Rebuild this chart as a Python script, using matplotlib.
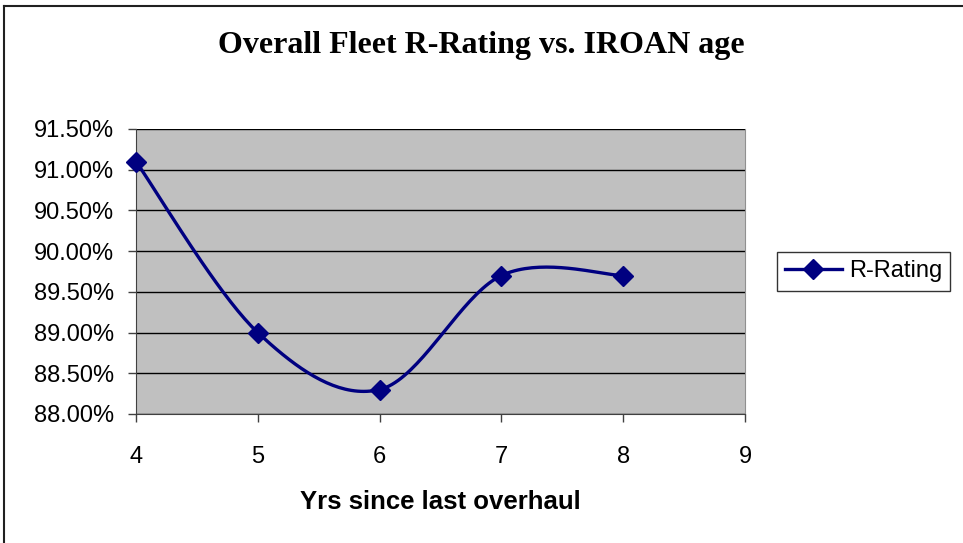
import matplotlib

matplotlib.use("Agg")
import matplotlib.pyplot as plt
import numpy as np
from matplotlib.lines import Line2D

# Data
years = [4, 5, 6, 7, 8]
r_rating = [91.10, 89.00, 88.30, 89.70, 89.70]  # percent
y_ticks = [88.0, 88.5, 89.0, 89.5, 90.0, 90.5, 91.0, 91.5]
x_ticks = [4, 5, 6, 7, 8, 9]

NAVY = "#000080"
GRAY = "#C0C0C0"


def smooth(xs, ys, n=40):
    """Catmull-Rom style curve through the points (like Excel's smoothed line)."""
    px = np.array(xs, float)
    py = np.array(ys, float)
    px = np.concatenate([[px[0]], px, [px[-1]]])
    py = np.concatenate([[py[0]], py, [py[-1]]])
    out_x, out_y = [], []
    for i in range(1, len(px) - 2):
        p0, p1, p2, p3 = (np.array([px[j], py[j]]) for j in (i - 1, i, i + 1, i + 2))
        c1 = p1 + (p2 - p0) / 6
        c2 = p2 - (p3 - p1) / 6
        t = np.linspace(0, 1, n)[:, None]
        b = ((1 - t) ** 3) * p1 + 3 * ((1 - t) ** 2) * t * c1 + 3 * (1 - t) * t**2 * c2 + t**3 * p2
        out_x.extend(b[:, 0])
        out_y.extend(b[:, 1])
    return out_x, out_y


plt.rcParams["font.family"] = ["Liberation Sans", "DejaVu Sans"]

fig = plt.figure(figsize=(9.63, 5.43), dpi=100)
# chart-area border: only the left and top edges fall inside the picture
fig.add_artist(Line2D([0.0045, 0.0045], [0.0, 0.989], transform=fig.transFigure,
                      color="#202020", linewidth=1.5))
fig.add_artist(Line2D([0.0045, 1.0], [0.989, 0.989], transform=fig.transFigure,
                      color="#202020", linewidth=1.5))

ax = fig.add_axes([0.1412, 0.2376, 0.6324, 0.5249])
ax.set_facecolor(GRAY)

sx, sy = smooth(years, r_rating)
ax.plot(sx, sy, color=NAVY, linewidth=2.4, zorder=3)
ax.plot(years, r_rating, linestyle="none", marker="D", markersize=10.5,
        color=NAVY, zorder=4, clip_on=False)
# legend proxy
ax.plot([], [], color=NAVY, linewidth=2.4, marker="D", markersize=10.5, label="R-Rating")

ax.set_xlim(4, 9)
ax.set_ylim(88.0, 91.5)
ax.set_xticks(x_ticks)
ax.set_yticks(y_ticks)
ax.set_yticklabels([f"{v:.2f}%" for v in y_ticks])
ax.tick_params(axis="both", labelsize=17, direction="out", length=6, width=1, color="#404040")
ax.tick_params(axis="x", pad=17)
ax.tick_params(axis="y", pad=10)
ax.yaxis.grid(True, color="black", linewidth=1)
ax.set_axisbelow(True)
ax.spines["top"].set_visible(False)
ax.spines["right"].set_color("#909090")
ax.spines["right"].set_linewidth(0.8)
ax.spines["left"].set_color("#404040")
ax.spines["bottom"].set_color("#404040")

ax.set_xlabel("Yrs since last overhaul", fontsize=18.5, fontweight="bold", labelpad=16)
fig.text(0.5, 0.917, "Overall Fleet R-Rating vs. IROAN age", ha="center", va="center",
         fontsize=23, fontweight="bold", family="Liberation Serif")

leg = ax.legend(loc="center left", bbox_to_anchor=(1.052, 0.5), fontsize=17,
                frameon=True, fancybox=False, handlelength=2.4, borderpad=0.35,
                handletextpad=0.3, borderaxespad=0)
leg.get_frame().set_edgecolor("black")
leg.get_frame().set_linewidth(1)

fig.savefig("out.png", dpi=100)
